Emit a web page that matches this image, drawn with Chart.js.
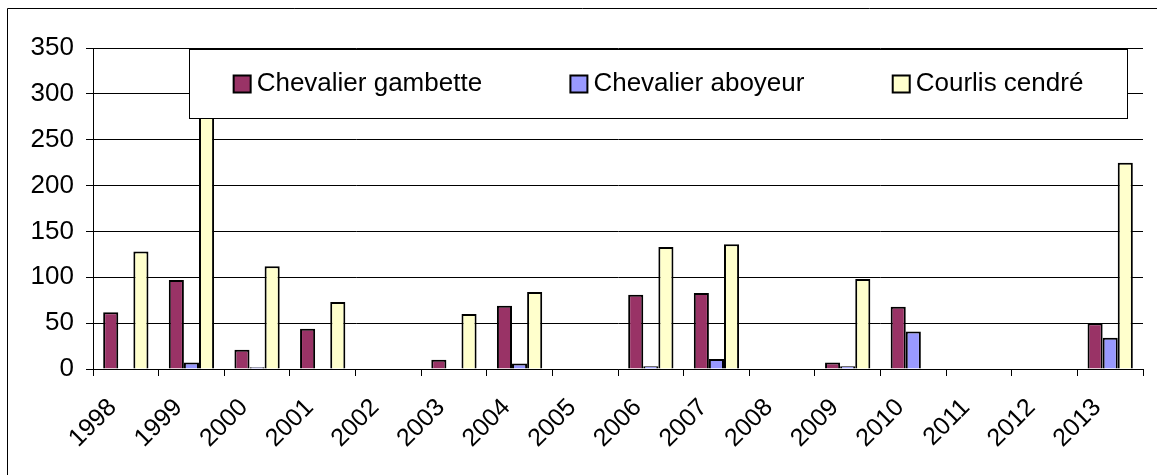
<!DOCTYPE html>
<html>
<head>
<meta charset="utf-8">
<script src="https://cdn.jsdelivr.net/npm/chart.js@4"></script>
<style>
  body { margin: 0; background: #fff; }
  canvas { display: block; }
</style>
</head>
<body>
<canvas id="myChart" width="1157" height="475"></canvas>
<script>
const years = ['1998', '1999', '2000', '2001', '2002', '2003', '2004', '2005',
               '2006', '2007', '2008', '2009', '2010', '2011', '2012', '2013'];
const gambette = [62, 97, 21, 44, null, 10, 69, null, 81, 83, null, 7, 68, null, null, 50];
const aboyeur  = [null, 7, 2, null, null, null, 6, null, 3, 11, null, 3, 41, null, null, 34];
const courlis  = [128, 330, 112, 73, null, 60, 84, null, 133, 136, null, 98, null, null, null, 225];
const yTicks = [0, 50, 100, 150, 200, 250, 300, 350];

const FONT = '"Liberation Sans", Arial, sans-serif';

// outer frame (only left and top edges are inside the picture)
const framePlugin = {
  id: 'frame',
  beforeDraw(chart) {
    const c = chart.ctx;
    c.save();
    c.strokeStyle = '#000';
    c.lineWidth = 1;
    c.beginPath();
    c.moveTo(7.5, chart.height);
    c.lineTo(7.5, 8.5);
    c.lineTo(chart.width, 8.5);
    c.stroke();
    c.restore();
  }
};

// Excel style legend box laid over the plot
const boxLegend = {
  id: 'boxLegend',
  afterDraw(chart) {
    const c = chart.ctx;
    const left = 189.5, top = 49.5, right = 1127.5, bottom = 118.5;
    const sw = 17, gapText = 6;
    c.save();
    c.fillStyle = '#fff';
    c.fillRect(left, top, right - left, bottom - top);
    c.strokeStyle = '#000';
    c.lineWidth = 1;
    c.strokeRect(left, top, right - left, bottom - top);
    c.font = '26px ' + FONT;
    c.textBaseline = 'middle';
    const items = chart.data.datasets.map(d => ({
      label: d.label, fill: d.backgroundColor,
      w: sw + gapText + c.measureText(d.label).width
    }));
    const total = items.reduce((s, it) => s + it.w, 0);
    const gap = (right - left - total) / items.length;
    let x = left + gap / 2;
    const cy = 84;
    items.forEach(it => {
      c.fillStyle = it.fill;
      c.fillRect(x, cy - sw / 2, sw, sw);
      c.lineWidth = 2;
      c.strokeStyle = '#000';
      c.strokeRect(x, cy - sw / 2, sw, sw);
      c.fillStyle = '#000';
      c.textAlign = 'left';
      c.fillText(it.label, x + sw + gapText, cy);
      x += it.w + gap;
    });
    c.restore();
  }
};

const ctx = document.getElementById('myChart');

new Chart(ctx, {
  type: 'bar',
  data: {
    labels: years,
    datasets: [{
      label: 'Chevalier gambette',
      data: gambette,
      backgroundColor: '#993366',
      borderColor: '#000',
      borderWidth: 2
    }, {
      label: 'Chevalier aboyeur',
      data: aboyeur,
      backgroundColor: '#9999FF',
      borderColor: '#000',
      borderWidth: 2
    }, {
      label: 'Courlis cendré',
      data: courlis,
      backgroundColor: '#FFFFCC',
      borderColor: '#000',
      borderWidth: 2
    }]
  },
  options: {
    responsive: false,
    animation: false,
    layout: { padding: { left: 0, top: 48, right: 14, bottom: 0 } },
    datasets: {
      bar: { categoryPercentage: 0.69, barPercentage: 1 }
    },
    plugins: {
      legend: { display: false },
      tooltip: { enabled: false }
    },
    scales: {
      x: {
        grid: {
          offset: true,
          drawOnChartArea: false,
          drawTicks: true,
          tickLength: 7,
          color: '#000'
        },
        border: { color: '#000', width: 1 },
        ticks: {
          color: '#000',
          font: { family: FONT, size: 25 },
          minRotation: 45,
          maxRotation: 45,
          autoSkip: false,
          padding: 17,
          labelOffset: -13
        },
        afterFit(scale) { scale.height = 475 - 369; }
      },
      y: {
        min: 0,
        max: 350,
        afterBuildTicks(scale) { scale.ticks = yTicks.map(v => ({ value: v })); },
        grid: {
          color: '#000',
          tickLength: 7,
          drawTicks: true
        },
        border: { color: '#000', width: 1 },
        ticks: {
          color: '#000',
          font: { family: FONT, size: 26 },
          padding: 12
        },
        afterFit(scale) { scale.width = 93; }
      }
    }
  },
  plugins: [framePlugin, boxLegend]
});
</script>
</body>
</html>
